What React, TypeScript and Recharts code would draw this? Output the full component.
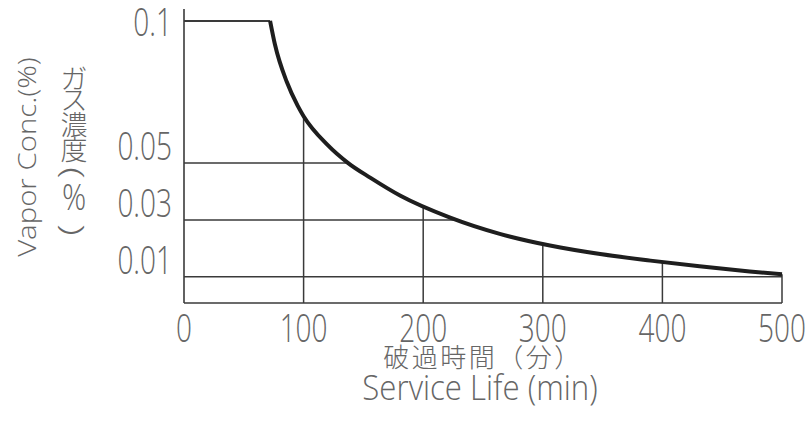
import React from 'react';
import { LineChart, Line, XAxis, YAxis, ReferenceLine } from 'recharts';

// Breakthrough curve: service life (min) vs vapor concentration (%)
const timeMin = [0, 72, 76, 86, 95, 100, 120, 137, 156, 181, 222, 264, 306, 348, 390, 431, 473, 500];
const vaporConc = [0.1, 0.1, 0.0918, 0.0785, 0.0702, 0.0665, 0.0564, 0.0501, 0.0448, 0.0385, 0.0309, 0.0251, 0.021, 0.018, 0.0157, 0.0137, 0.0119, 0.0109];
const plateauEnd = 72;

const xTicks = [0, 100, 200, 300, 400, 500];
const yTicks = [0.01, 0.03, 0.05, 0.1];
const hGrid = [0.01, 0.03, 0.05];
const vGrid = [100, 200, 300, 400, 500];
const yDomain: [number, number] = [0.0008, 0.1042];

const xTitleJa = '破過時間（分）';
const xTitleEn = 'Service Life (min)';
const yTitleEn = 'Vapor Conc.(%)';
const yTitleJa = 'ガス濃度';
const yTitleUnit = ['(', '%', ')'];

const data = timeMin.map((t, i) => ({
  t,
  flat: t <= plateauEnd ? vaporConc[i] : null,
  curve: t >= plateauEnd ? vaporConc[i] : null,
}));

function concAtTime(t: number): number {
  for (let i = 0; i < timeMin.length - 1; i++) {
    if (t >= timeMin[i] && t <= timeMin[i + 1]) {
      const f = (t - timeMin[i]) / (timeMin[i + 1] - timeMin[i]);
      return vaporConc[i] + f * (vaporConc[i + 1] - vaporConc[i]);
    }
  }
  return vaporConc[vaporConc.length - 1];
}

function timeAtConc(v: number): number {
  for (let i = 0; i < timeMin.length - 1; i++) {
    const a = vaporConc[i], b = vaporConc[i + 1];
    if (a > b && v <= a && v >= b) {
      const f = (a - v) / (a - b);
      return timeMin[i] + f * (timeMin[i + 1] - timeMin[i]);
    }
  }
  return timeMin[timeMin.length - 1];
}

const TEXT = '#666666';
const LINE = '#3a3a3a';
const LATIN = '"Open Sans", "Noto Sans", sans-serif';
const CJK = '"Noto Sans CJK JP", sans-serif';

const XTick = (props: any) => {
  const { x, y, payload } = props;
  return (
    <text
      transform={`translate(${x},${y + 39}) scale(1,1.35)`}
      textAnchor="middle"
      fontSize={28}
      fontFamily={LATIN}
      fontWeight={300}
      fill={TEXT}
    >
      {payload.value}
    </text>
  );
};

const YTick = (props: any) => {
  const { x, y, payload } = props;
  const dy = payload.value === 0.1 ? 15 : -3;
  return (
    <text
      transform={`translate(${x - 12},${y + dy}) scale(1,1.35)`}
      textAnchor="end"
      fontSize={28}
      fontFamily={LATIN}
      fontWeight={300}
      fill={TEXT}
    >
      {String(payload.value)}
    </text>
  );
};

const XTitle = () => (
  <g>
    <text x={483} y={367} textAnchor="middle" fontSize={26} letterSpacing={2.5} fontFamily={CJK} fontWeight={300} fill={TEXT}>
      {xTitleJa}
    </text>
    <text
      transform="translate(480,400) scale(1.2,1.32)"
      textAnchor="middle"
      fontSize={26}
      fontFamily={LATIN}
      fontWeight={300}
      fill={TEXT}
    >
      {xTitleEn}
    </text>
  </g>
);

const jaY = [89, 110, 135, 160];

const YTitle = () => (
  <g>
    <text
      transform="translate(36,157) rotate(-90) scale(1.13,1)"
      textAnchor="middle"
      fontSize={26}
      fontFamily={LATIN}
      fontWeight={300}
      fill={TEXT}
    >
      {yTitleEn}
    </text>
    <text textAnchor="middle" fontFamily={CJK} fontWeight={300} fontSize={27} fill={TEXT}>
      {yTitleJa.split('').map((c, i) => (
        <tspan key={i} x={74} y={jaY[i]}>
          {c}
        </tspan>
      ))}
    </text>
    <text
      transform="translate(74,173) rotate(90) scale(1.5,1)"
      textAnchor="middle"
      dominantBaseline="central"
      fontSize={29}
      fontFamily={LATIN}
      fontWeight={300}
      fill={TEXT}
    >
      {yTitleUnit[0]}
    </text>
    <text
      transform="translate(74,210) scale(1,1.25)"
      textAnchor="middle"
      fontSize={30}
      fontFamily={LATIN}
      fontWeight={300}
      fill={TEXT}
    >
      {yTitleUnit[1]}
    </text>
    <text
      transform="translate(74,230) rotate(90) scale(1.5,1)"
      textAnchor="middle"
      dominantBaseline="central"
      fontSize={29}
      fontFamily={LATIN}
      fontWeight={300}
      fill={TEXT}
    >
      {yTitleUnit[2]}
    </text>
  </g>
);

export default function App() {
  return (
    <div style={{ position: 'absolute', left: 0, top: 0, background: '#fff' }}>
      <LineChart width={809} height={425} data={data} margin={{ top: 9, right: 27, bottom: 0, left: 0 }}>
        <XAxis
          dataKey="t"
          type="number"
          domain={[0, 500]}
          ticks={xTicks}
          height={122}
          tickLine={false}
          tickSize={0}
          tickMargin={0}
          axisLine={{ stroke: LINE, strokeWidth: 1.6 }}
          tick={<XTick />}
          label={{ content: () => <XTitle /> }}
        />
        <YAxis
          type="number"
          domain={yDomain}
          allowDataOverflow
          ticks={yTicks}
          width={184}
          tickLine={false}
          tickSize={0}
          tickMargin={0}
          axisLine={{ stroke: LINE, strokeWidth: 1.6 }}
          tick={<YTick />}
          label={{ content: () => <YTitle /> }}
        />
        {hGrid.map((v) => (
          <ReferenceLine
            key={'h' + v}
            segment={[{ x: 0, y: v }, { x: timeAtConc(v), y: v }]}
            stroke={LINE}
            strokeWidth={1.5}
            ifOverflow="visible"
          />
        ))}
        {vGrid.map((t) => (
          <ReferenceLine
            key={'v' + t}
            segment={[{ x: t, y: yDomain[0] }, { x: t, y: concAtTime(t) }]}
            stroke={LINE}
            strokeWidth={1.5}
            ifOverflow="visible"
          />
        ))}
        <Line
          dataKey="flat"
          type="linear"
          stroke={LINE}
          strokeWidth={2}
          dot={false}
          activeDot={false}
          isAnimationActive={false}
        />
        <Line
          dataKey="curve"
          type="monotone"
          stroke="#1e1e1e"
          strokeWidth={4}
          dot={false}
          activeDot={false}
          isAnimationActive={false}
        />
      </LineChart>
    </div>
  );
}
